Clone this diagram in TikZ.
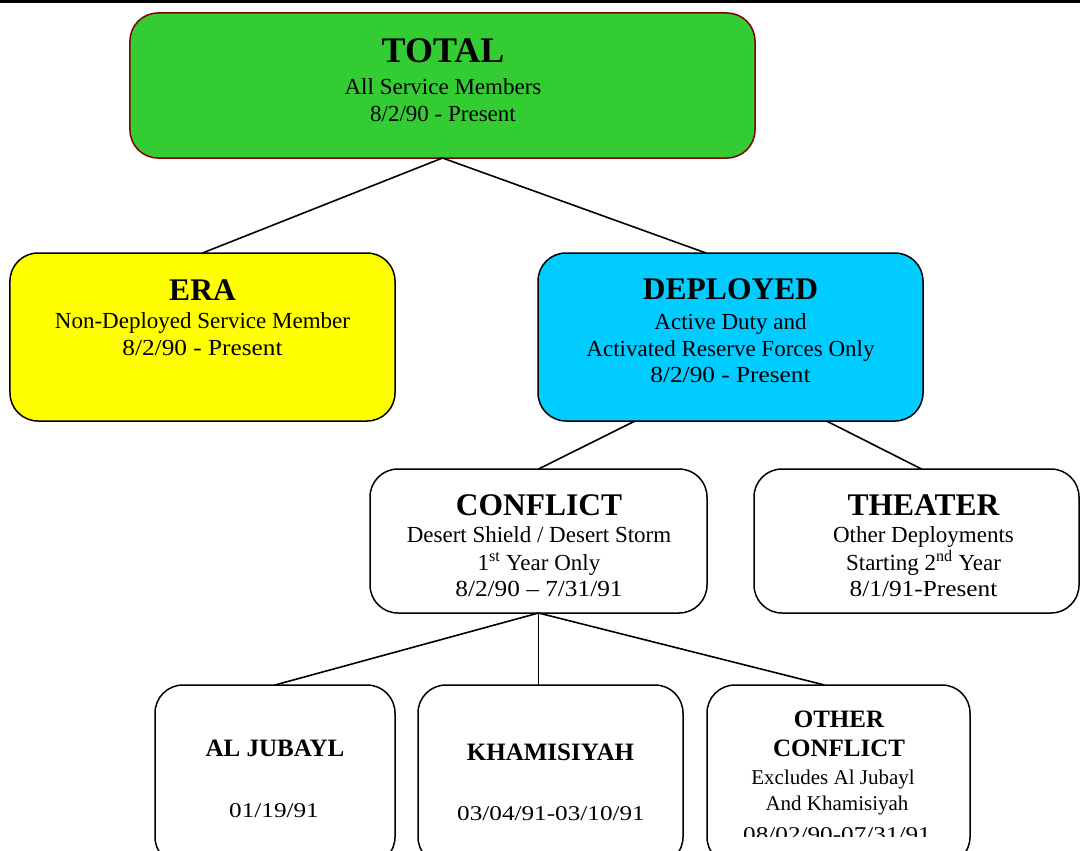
\documentclass[tikz,border=0pt]{standalone}
\usepackage{fontspec}
\setmainfont{Liberation Serif}
\newfontfamily\widedig[FakeStretch=1.2,Ligatures=TeX]{Liberation Serif}
\newfontfamily\meddig[FakeStretch=1.1,Ligatures=TeX]{Liberation Serif}
\definecolor{totgreen}{HTML}{33CC33}
\definecolor{totborder}{HTML}{800000}
\definecolor{erayellow}{HTML}{FFFF00}
\definecolor{depcyan}{HTML}{00CCFF}
\begin{document}
\begin{tikzpicture}[x=1bp,y=-1bp,
  box/.style={draw=black, line width=1.5bp, rounded corners=28bp, inner sep=0pt, outer sep=0pt},
  conn/.style={draw=black, line width=1.6bp},
  bigttl/.style={anchor=base, inner sep=0pt, font=\bfseries\fontsize{36bp}{36bp}\selectfont},
  ttl/.style={anchor=base, inner sep=0pt, font=\bfseries\fontsize{31.5bp}{31bp}\selectfont},
  smttl/.style={anchor=base, inner sep=0pt, font=\bfseries\fontsize{25bp}{25bp}\selectfont},
  txt/.style={anchor=base, inner sep=0pt, font=\fontsize{23bp}{27bp}\selectfont},
  smtxt/.style={anchor=base, inner sep=0pt, font=\fontsize{21bp}{27bp}\selectfont}]
\useasboundingbox (0,0) rectangle (1080,851);
\clip (0,0) rectangle (1080,851);
\fill[white] (0,0) rectangle (1080,851);
\fill[black] (0,0) rectangle (1080,2.5);

% boxes
\node[box, fill=totgreen, draw=totborder, minimum width=625bp, minimum height=145bp] (total) at (442.5,85.5) {};
\node[box, fill=erayellow, minimum width=385bp, minimum height=168bp] (era) at (202.5,337) {};
\node[box, fill=depcyan, minimum width=385bp, minimum height=168bp] (deployed) at (730.5,337) {};
\node[box, fill=white, minimum width=337bp, minimum height=144bp] (conflict) at (538.5,541) {};
\node[box, fill=white, minimum width=325bp, minimum height=144bp] (theater) at (916.5,541) {};
\node[box, fill=white, minimum width=240bp, minimum height=180bp] (aljubayl) at (275,775) {};
\node[box, fill=white, minimum width=265bp, minimum height=180bp] (kham) at (550.5,775) {};
\node[box, fill=white, minimum width=263bp, minimum height=180bp] (other) at (838.5,775) {};

% connectors
\draw[conn] (total.south) -- (era.north);
\draw[conn] (total.south) -- ([xshift=-24.5bp]deployed.north);
\draw[conn] ([xshift=-95.5bp]deployed.south) -- (conflict.north);
\draw[conn] ([xshift=96bp]deployed.south) -- ([xshift=5bp]theater.north);
\draw[conn] (conflict.south) -- (aljubayl.north);
\draw[conn] (conflict.south) -- (conflict.south |- kham.north);
\draw[conn] (conflict.south) -- ([xshift=-14bp]other.north);

% texts
\node[bigttl] (t1) at (443,62) {TOTAL};
\node[txt] (t2) at (443,94) {All Service Members};
\node[txt] (t3) at (443,121) {8/2/90 - Present};

\node[ttl] (e1) at (202.5,300) {ERA};
\node[txt] (e2) at (202.5,328.3) {Non-Deployed Service Member};
\node[txt] (e3) at (202.5,355) {\meddig 8/2/90 - Present};

\node[ttl] (d1) at (730.5,299.5) {DEPLOYED};
\node[txt] (d2) at (730.5,329.5) {Active Duty and};
\node[txt] (d3) at (730.5,356) {Activated Reserve Forces Only};
\node[txt] (d4) at (730.5,382.5) {\meddig 8/2/90 - Present};

\node[ttl] (c1) at (539,515) {CONFLICT};
\node[txt] (c2) at (539,542.7) {Desert Shield / Desert Storm};
\node[txt] (c3) at (539,570) {1\textsuperscript{st} Year Only};
\node[txt] (c4) at (539,596.7) {\meddig 8/2/90 – 7/31/91};

\node[ttl] (h1) at (923.5,515) {THEATER};
\node[txt] (h2) at (923.5,542.7) {Other Deployments};
\node[txt] (h3) at (923.5,570) {Starting 2\textsuperscript{nd} Year};
\node[txt] (h4) at (923.5,596.7) {\meddig 8/1/91-Present};

\node[smttl] (a1) at (275,756.7) {AL JUBAYL};
\node[smtxt] (a2) at (274,817.3) {\widedig 01/19/91};

\node[smttl] (k1) at (550.5,760) {KHAMISIYAH};
\node[smtxt] (k2) at (551,820.7) {\widedig 03/04/91-03/10/91};

\node[smttl] (o1) at (839,727.7) {OTHER};
\node[smttl] (o2) at (839,756) {CONFLICT};
\node[smtxt] (o3) at (833,784.3) {Excludes Al Jubayl};
\node[smtxt] (o4) at (837,810) {And Khamisiyah};
\begin{scope}
\clip (700,815) rectangle (980,836);
\node[smtxt] (o5) at (837,841) {\widedig 08/02/90-07/31/91};
\end{scope}
\end{tikzpicture}
\end{document}
